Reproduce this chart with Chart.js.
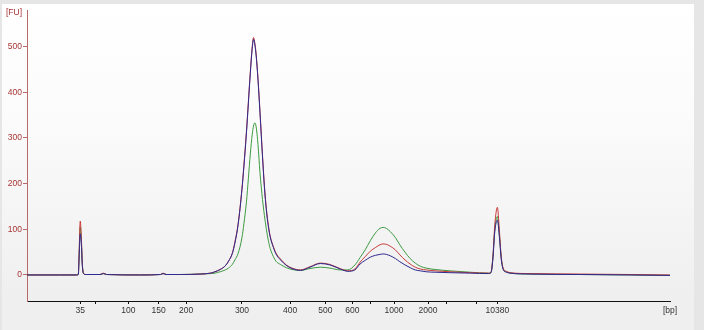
<!DOCTYPE html>
<html>
<head>
<meta charset="utf-8">
<script src="https://cdn.jsdelivr.net/npm/chart.js@4/dist/chart.umd.min.js"></script>
<style>
  html, body { margin: 0; padding: 0; background: #ececec; }
  #wrap { width: 704px; height: 330px; }
</style>
</head>
<body>
<div id="wrap"><canvas id="trace" width="704" height="330"></canvas></div>
<script>
// ladder: fragment size (bp) and migration time (s)
const ladderBp   = [35, 50, 100, 150, 200, 300, 400, 500, 600, 700, 1000, 2000, 3000, 7000, 10380];
const ladderTime = [43.0, 45.3, 50.5, 55.2, 59.5, 68.2, 75.7, 81.2, 85.4, 88.3, 91.9, 97.2, 100.0, 104.8, 108.0];
const shownBp    = [35, 100, 150, 200, 300, 400, 500, 600, 1000, 2000, 10380];
const fuTicks    = [0, 100, 200, 300, 400, 500];

// sample traces, time (s)
const time = [34.7, 39.9, 42.4, 42.7, 42.8, 43.0, 43.2, 43.3, 43.5, 43.8, 46.1, 46.6, 47.1, 52.4, 55.5, 55.9, 56.4,
  58.6, 61.7, 63.3, 64.0, 64.8, 65.6, 66.1, 66.7, 67.1, 67.6, 68.2, 68.5, 68.9, 69.2, 69.5, 69.8, 70.0, 70.2, 70.4,
  70.7, 71.0, 71.4, 71.7, 72.0, 72.3, 72.6, 73.1, 73.5, 74.2, 75.1, 76.0, 77.3, 78.8, 80.4, 81.9, 83.5, 84.7, 85.8,
  86.6, 87.4, 88.2, 89.0, 89.7, 90.2, 90.7, 91.3, 92.1, 92.8, 93.6, 94.4, 95.2, 96.0, 96.9, 98.3, 100.6, 103.8,
  106.6, 107.0, 107.3, 107.6, 108.0, 108.3, 108.6, 108.9, 109.4, 110.0, 113.1, 120.9, 128.7, 134.9];

const sampleRed = [0, 0, 0, 2, 40, 118, 70, 30, 4, 1, 1, 4, 1, 0, 1, 4, 1,
  1, 2, 4, 7, 12, 20, 30, 48, 72, 112, 190, 240, 315, 380, 445, 500, 520, 508, 485,
  430, 360, 262, 195, 145, 110, 85, 62, 48, 35, 22, 15, 11, 18, 26, 23, 14, 9, 13,
  28, 40, 52, 60, 66, 68, 67, 63, 55, 44, 33, 24, 17, 13, 11, 9, 7, 5,
  4, 6, 40, 110, 148, 100, 40, 15, 8, 5, 3, 2, 1, 0];

const sampleBlue = [0, 0, 0, 1, 30, 90, 60, 25, 3, 1, 1, 3, 1, 0, 1, 3, 1,
  1, 2, 4, 7, 12, 20, 30, 47, 70, 110, 187, 237, 311, 376, 441, 496, 516, 504, 481,
  426, 356, 258, 191, 142, 107, 83, 60, 46, 33, 21, 14, 10, 17, 25, 22, 13, 8, 11,
  24, 32, 39, 43, 45, 46, 45, 42, 36, 29, 22, 16, 11, 9, 7, 6, 5, 4,
  3, 5, 35, 95, 120, 85, 35, 12, 6, 4, 2, 1, 0, -1];

const sampleGreen = [0, 0, 0, 1, 35, 105, 65, 28, 4, 1, 1, 3, 1, 0, 1, 3, 1,
  1, 2, 3, 4, 7, 11, 15, 23, 33, 47, 82, 112, 160, 212, 265, 308, 326, 333, 325,
  285, 225, 165, 130, 100, 76, 58, 40, 30, 23, 16, 12, 10, 14, 17, 15, 11, 11, 22,
  38, 55, 75, 92, 102, 104, 102, 95, 82, 66, 50, 36, 26, 19, 15, 12, 9, 6,
  4, 5, 38, 100, 128, 90, 38, 14, 7, 4, 2, 1, 0, -1];

function pts(values) {
  return time.map((t, i) => ({ x: t, y: values[i] }));
}

const frame = {
  id: 'frame',
  beforeDraw(chart) {
    const c = chart.ctx;
    c.save();
    c.fillStyle = '#e6e6e6';
    c.fillRect(0, 0, chart.width, chart.height);
    const g = c.createLinearGradient(0, 4, 0, 300);
    g.addColorStop(0, '#ffffff');
    g.addColorStop(0.4, '#fbfbfb');
    g.addColorStop(1, '#efefef');
    c.fillStyle = g;
    c.fillRect(2, 4, 692, 326);
    c.restore();
  },
  afterDraw(chart) {
    const c = chart.ctx;
    const a = chart.chartArea;
    c.save();
    c.font = '8.5px "Liberation Sans"';
    c.textAlign = 'center';
    c.textBaseline = 'middle';
    c.fillStyle = '#a83434';
    c.fillText('[FU]', 14, 13);
    c.fillStyle = '#333333';
    c.fillText('[bp]', a.right, 311);
    c.restore();
  }
};

const line = (label, values, color) => ({
  label,
  data: pts(values),
  borderColor: color,
  borderWidth: 1,
  pointRadius: 0,
  fill: false,
  cubicInterpolationMode: 'monotone'
});

new Chart(document.getElementById('trace'), {
  type: 'line',
  data: {
    datasets: [
      line('Sample 2', sampleBlue, '#2c2a8e'),
      line('Sample 1', sampleRed, '#c83a3a'),
      line('Sample 3', sampleGreen, '#3c9a40')
    ]
  },
  options: {
    responsive: false,
    animation: false,
    layout: { padding: { top: 10, right: 34, left: 0, bottom: 0 } },
    plugins: { legend: { display: false }, tooltip: { enabled: false } },
    scales: {
      x: {
        type: 'linear',
        min: 34.7,
        max: 134.9,
        afterBuildTicks: s => { s.ticks = ladderTime.map(v => ({ value: v })); },
        afterFit: s => { s.height = 29; },
        border: { color: '#111111', width: 1 },
        grid: { drawOnChartArea: false, tickLength: 3, color: '#111111' },
        ticks: {
          autoSkip: false,
          maxRotation: 0,
          padding: 2,
          color: '#333333',
          font: { family: 'Liberation Sans', size: 8.5 },
          callback: v => {
            const bp = ladderBp[ladderTime.indexOf(v)];
            return shownBp.includes(bp) ? String(bp) : '';
          }
        }
      },
      y: {
        min: -57,
        max: 580,
        afterBuildTicks: s => { s.ticks = fuTicks.map(v => ({ value: v })); },
        afterFit: s => { s.width = 27; },
        border: { color: '#b86a6a', width: 1 },
        grid: { drawOnChartArea: false, tickLength: 4, color: '#b86a6a' },
        ticks: {
          padding: 1,
          color: '#a83434',
          font: { family: 'Liberation Sans', size: 8.5 }
        }
      }
    }
  },
  plugins: [frame]
});
</script>
</body>
</html>
